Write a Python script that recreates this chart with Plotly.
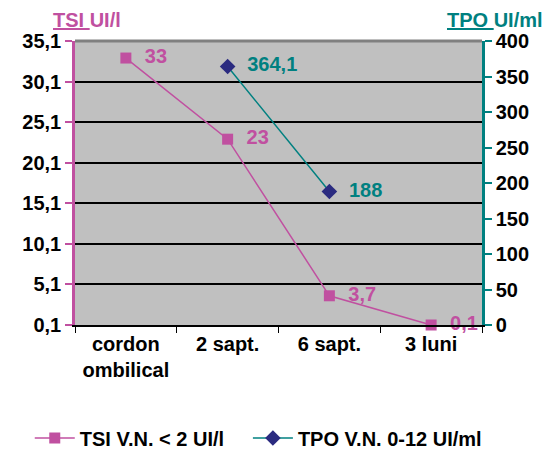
import plotly.graph_objects as go

categories = ["cordon<br>ombilical", "2 sapt.", "6 sapt.", "3 luni"]
tsi_values = [33, 23, 3.7, 0.1]
tpo_values = [None, 364.1, 188, None]
tsi_name = "TSI V.N. < 2 UI/l"
tpo_name = "TPO V.N. 0-12 UI/ml"

MAG = "#C050A0"
TEAL = "#008080"
NAVY = "#2B2B80"
FONT = "Liberation Sans, Arial, sans-serif"
FS = 20

def fmt(v):
    return "" if v is None else "  " + f"{v:g}".replace(".", ",")

fig = go.Figure()
fig.add_trace(go.Scatter(
    x=categories, y=tsi_values, name=tsi_name, mode="lines+markers+text",
    line=dict(color=MAG, width=1.5),
    marker=dict(symbol="square", size=11, color=MAG),
    text=[fmt(v) for v in tsi_values], textposition="middle right",
    textfont=dict(family=FONT, size=FS, color=MAG, weight="bold"),
    cliponaxis=False, legend="legend",
))
fig.add_trace(go.Scatter(
    x=categories, y=tpo_values, name=tpo_name, mode="lines+markers+text",
    yaxis="y2",
    line=dict(color=TEAL, width=1.5),
    marker=dict(symbol="diamond", size=12, color=NAVY),
    text=[fmt(v) for v in tpo_values], textposition="middle right",
    textfont=dict(family=FONT, size=FS, color=TEAL, weight="bold"),
    cliponaxis=False, legend="legend2",
))

legend_font = dict(family=FONT, size=FS, color="black", weight="bold")

fig.update_layout(
    width=544, height=444,
    margin=dict(l=67, r=70, t=33, b=127),
    paper_bgcolor="white", plot_bgcolor="#C0C0C0",
    separators=",.",
    font=dict(family=FONT, size=FS, color="black", weight="bold"),
    showlegend=True,
    legend=dict(orientation="h", xref="container", x=0.040, xanchor="left",
                yref="container", y=0.0315, yanchor="middle",
                font=legend_font, itemwidth=40, bgcolor="rgba(0,0,0,0)"),
    legend2=dict(orientation="h", xref="container", x=0.441, xanchor="left",
                 yref="container", y=0.0315, yanchor="middle",
                 font=legend_font, itemwidth=40, bgcolor="rgba(0,0,0,0)"),
    xaxis=dict(
        type="category", showgrid=False, showline=True, linecolor="black", linewidth=1.5,
        ticks="outside", tickson="boundaries", ticklen=6, tickcolor="black",
        tickfont=dict(family=FONT, size=FS, color="black", weight="bold"),
        range=[-0.5, 3.5], automargin=False,
    ),
    yaxis=dict(
        range=[0.1, 35.1], tick0=0.1, dtick=5, tickformat=".1f",
        showgrid=True, gridcolor="black", gridwidth=1.5, zeroline=False,
        showline=True, linecolor=MAG, linewidth=2.5,
        ticks="outside", ticklen=7, tickcolor=MAG, tickwidth=2,
        tickfont=dict(family=FONT, size=FS, color="black", weight="bold"),
        automargin=False,
    ),
    yaxis2=dict(
        range=[0, 400], dtick=50, overlaying="y", side="right",
        showgrid=False, zeroline=False,
        showline=True, linecolor=TEAL, linewidth=2.5,
        ticks="outside", ticklen=7, tickcolor=TEAL, tickwidth=2,
        tickfont=dict(family=FONT, size=FS, color="black", weight="bold"),
        automargin=False,
    ),
    shapes=[dict(type="line", xref="paper", yref="paper", x0=0, x1=1, y0=1, y1=1,
                 line=dict(color="#808080", width=3), layer="above")],
    annotations=[
        dict(text="<u>TSI </u>UI/l", xref="paper", yref="paper", x=-0.059, y=1.0,
             xanchor="left", yanchor="bottom", yshift=8, showarrow=False,
             font=dict(family=FONT, size=FS, color=MAG, weight="bold")),
        dict(text="<u>TPO </u>UI/ml", xref="paper", yref="paper", x=1.155, y=1.0,
             xanchor="right", yanchor="bottom", yshift=8, showarrow=False,
             font=dict(family=FONT, size=FS, color=TEAL, weight="bold")),
    ],
)

fig.write_html("out.html")
